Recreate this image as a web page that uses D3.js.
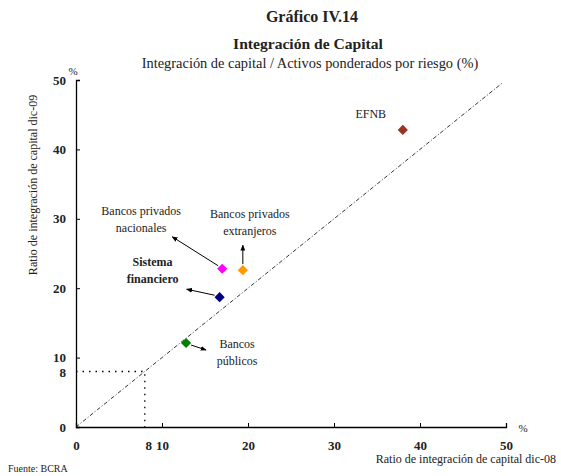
<!DOCTYPE html>
<html>
<head>
<meta charset="utf-8">
<script src="https://cdn.jsdelivr.net/npm/d3@7"></script>
<style>
  body { margin: 0; background: #fff; }
  svg text { font-family: "Liberation Serif", serif; fill: #222; }
</style>
</head>
<body>
<svg class="chart" width="561" height="476"></svg>
<script>
const names = ['EFNB', 'Bancos privados nacionales', 'Bancos privados extranjeros', 'Sistema financiero', 'Bancos públicos']
const dic08 = [38.0, 17.0, 19.4, 16.7, 12.8]
const dic09 = [42.8, 22.8, 22.6, 18.7, 12.1]
const colors = ['#993322', '#ff00ff', '#ff9900', '#000080', '#008000']
const tickVals = [0, 10, 20, 30, 40, 50]
const minimo = 8

const svg = d3.select('.chart')
const margin = {top: 80, left: 76}
const innerWidth = 430
const innerHeight = 347

const xScale = d3.scaleLinear().domain([0, 50]).range([0, innerWidth])
const yScale = d3.scaleLinear().domain([0, 50]).range([innerHeight, 0])

// titles
svg.append('text').attr('x', 312).attr('y', 22).attr('text-anchor', 'middle')
  .style('font-weight', 'bold').style('font-size', '16px').text('Gráfico IV.14')
svg.append('text').attr('x', 308).attr('y', 49).attr('text-anchor', 'middle')
  .style('font-weight', 'bold').style('font-size', '15.6px').text('Integración de Capital')
svg.append('text').attr('x', 310).attr('y', 68).attr('text-anchor', 'middle')
  .style('font-size', '14.4px').text('Integración de capital / Activos ponderados por riesgo (%)')

const g = svg.append('g').attr('transform', `translate(${margin.left},${margin.top})`)

// axes
const yAxis = g.append('g')
  .call(d3.axisLeft(yScale).tickValues(tickVals.concat([minimo])).tickSize(-4).tickPadding(10).tickFormat(d3.format('d')))
const xAxis = g.append('g')
  .attr('transform', `translate(0,${innerHeight})`)
  .call(d3.axisBottom(xScale).tickValues(tickVals).tickSize(-4).tickPadding(14).tickFormat(d3.format('d')))
g.selectAll('.domain').attr('stroke', '#000').attr('stroke-width', 1.3)
g.selectAll('.tick line').attr('stroke', '#000')
g.selectAll('.tick text').style('font-family', '"Liberation Serif", serif')
  .style('font-weight', 'bold').style('font-size', '13px').attr('fill', '#222')
// the extra 8 on x
g.append('text').attr('x', xScale(minimo) + 4).attr('y', innerHeight + 23).attr('text-anchor', 'middle')
  .style('font-weight', 'bold').style('font-size', '13px').text(minimo)
yAxis.selectAll('.tick').filter(d => d === minimo).select('line').remove()
yAxis.selectAll('.tick').filter(d => d === minimo).select('text').attr('dy', '0.42em')

// axis units and titles
svg.append('text').attr('x', 73).attr('y', 75).attr('text-anchor', 'middle').style('font-size', '11px').text('%')
svg.append('text').attr('x', 523).attr('y', 432).attr('text-anchor', 'middle').style('font-size', '11px').text('%')
svg.append('text').attr('transform', 'translate(37,185) rotate(-90)').attr('text-anchor', 'middle')
  .style('font-size', '12px').text('Ratio de integración de capital dic-09')
svg.append('text').attr('x', 556).attr('y', 463).attr('text-anchor', 'end')
  .style('font-size', '12px').text('Ratio de integración de capital dic-08')
svg.append('text').attr('x', 8).attr('y', 472).style('font-size', '10px').text('Fuente: BCRA')

// 45 degree line
g.append('line')
  .attr('x1', xScale(0)).attr('y1', yScale(0)).attr('x2', xScale(49.5)).attr('y2', yScale(49.5))
  .attr('stroke', '#000').attr('stroke-width', 0.8).attr('stroke-dasharray', '4,2,1,2')

// minimum 8% guide
g.append('path')
  .attr('d', `M${xScale(0)},${yScale(minimo)}H${xScale(minimo)}V${yScale(0)}`)
  .attr('fill', 'none').attr('stroke', '#000').attr('stroke-width', 1.3).attr('stroke-dasharray', '1.5,5')

// arrows
svg.append('defs').append('marker').attr('id', 'arr')
  .attr('viewBox', '0 0 10 10').attr('refX', 9).attr('refY', 5)
  .attr('markerWidth', 6).attr('markerHeight', 6).attr('orient', 'auto')
  .append('path').attr('d', 'M0,1L10,5L0,9Z').attr('fill', '#000')

const data = names.map((n, i) => ({name: n, x: dic08[i], y: dic09[i], color: colors[i]}))

// label positions offset from point (pixels)
const labelOffsets = [
  {dx: -32, dy: -12, lines: ['EFNB'], bold: false, arrow: null},
  {dx: -81, dy: -54, lines: ['Bancos privados', 'nacionales'], bold: false, arrow: [-4, -3, -50, -32]},
  {dx: 7, dy: -52, lines: ['Bancos privados', 'extranjeros'], bold: false, arrow: [0, -6, 0, -25]},
  {dx: -67, dy: -31, lines: ['Sistema', 'financiero'], bold: true, arrow: [-5, -2, -33, -8]},
  {dx: 51, dy: 5, lines: ['Bancos', 'públicos'], bold: false, arrow: [5, 2, 20, 7]}
]

data.forEach((d, i) => {
  const o = labelOffsets[i]
  const px = xScale(d.x), py = yScale(d.y)
  if (o.arrow) {
    g.append('line')
      .attr('x1', px + o.arrow[0]).attr('y1', py + o.arrow[1])
      .attr('x2', px + o.arrow[2]).attr('y2', py + o.arrow[3])
      .attr('stroke', '#000').attr('stroke-width', 1).attr('marker-end', 'url(#arr)')
  }
  const t = g.append('text').attr('text-anchor', 'middle')
    .style('font-size', '12px').style('font-weight', o.bold ? 'bold' : 'normal')
  o.lines.forEach((l, k) => {
    t.append('tspan').attr('x', px + o.dx).attr('y', py + o.dy + k * 17).text(l)
  })
})

g.selectAll('.pt')
  .data(data)
  .enter()
  .append('path')
  .attr('class', 'pt')
  .attr('d', d3.symbol(d3.symbolSquare, 52)())
  .attr('transform', d => `translate(${xScale(d.x)},${yScale(d.y)}) rotate(45)`)
  .attr('fill', d => d.color)
</script>
</body>
</html>
